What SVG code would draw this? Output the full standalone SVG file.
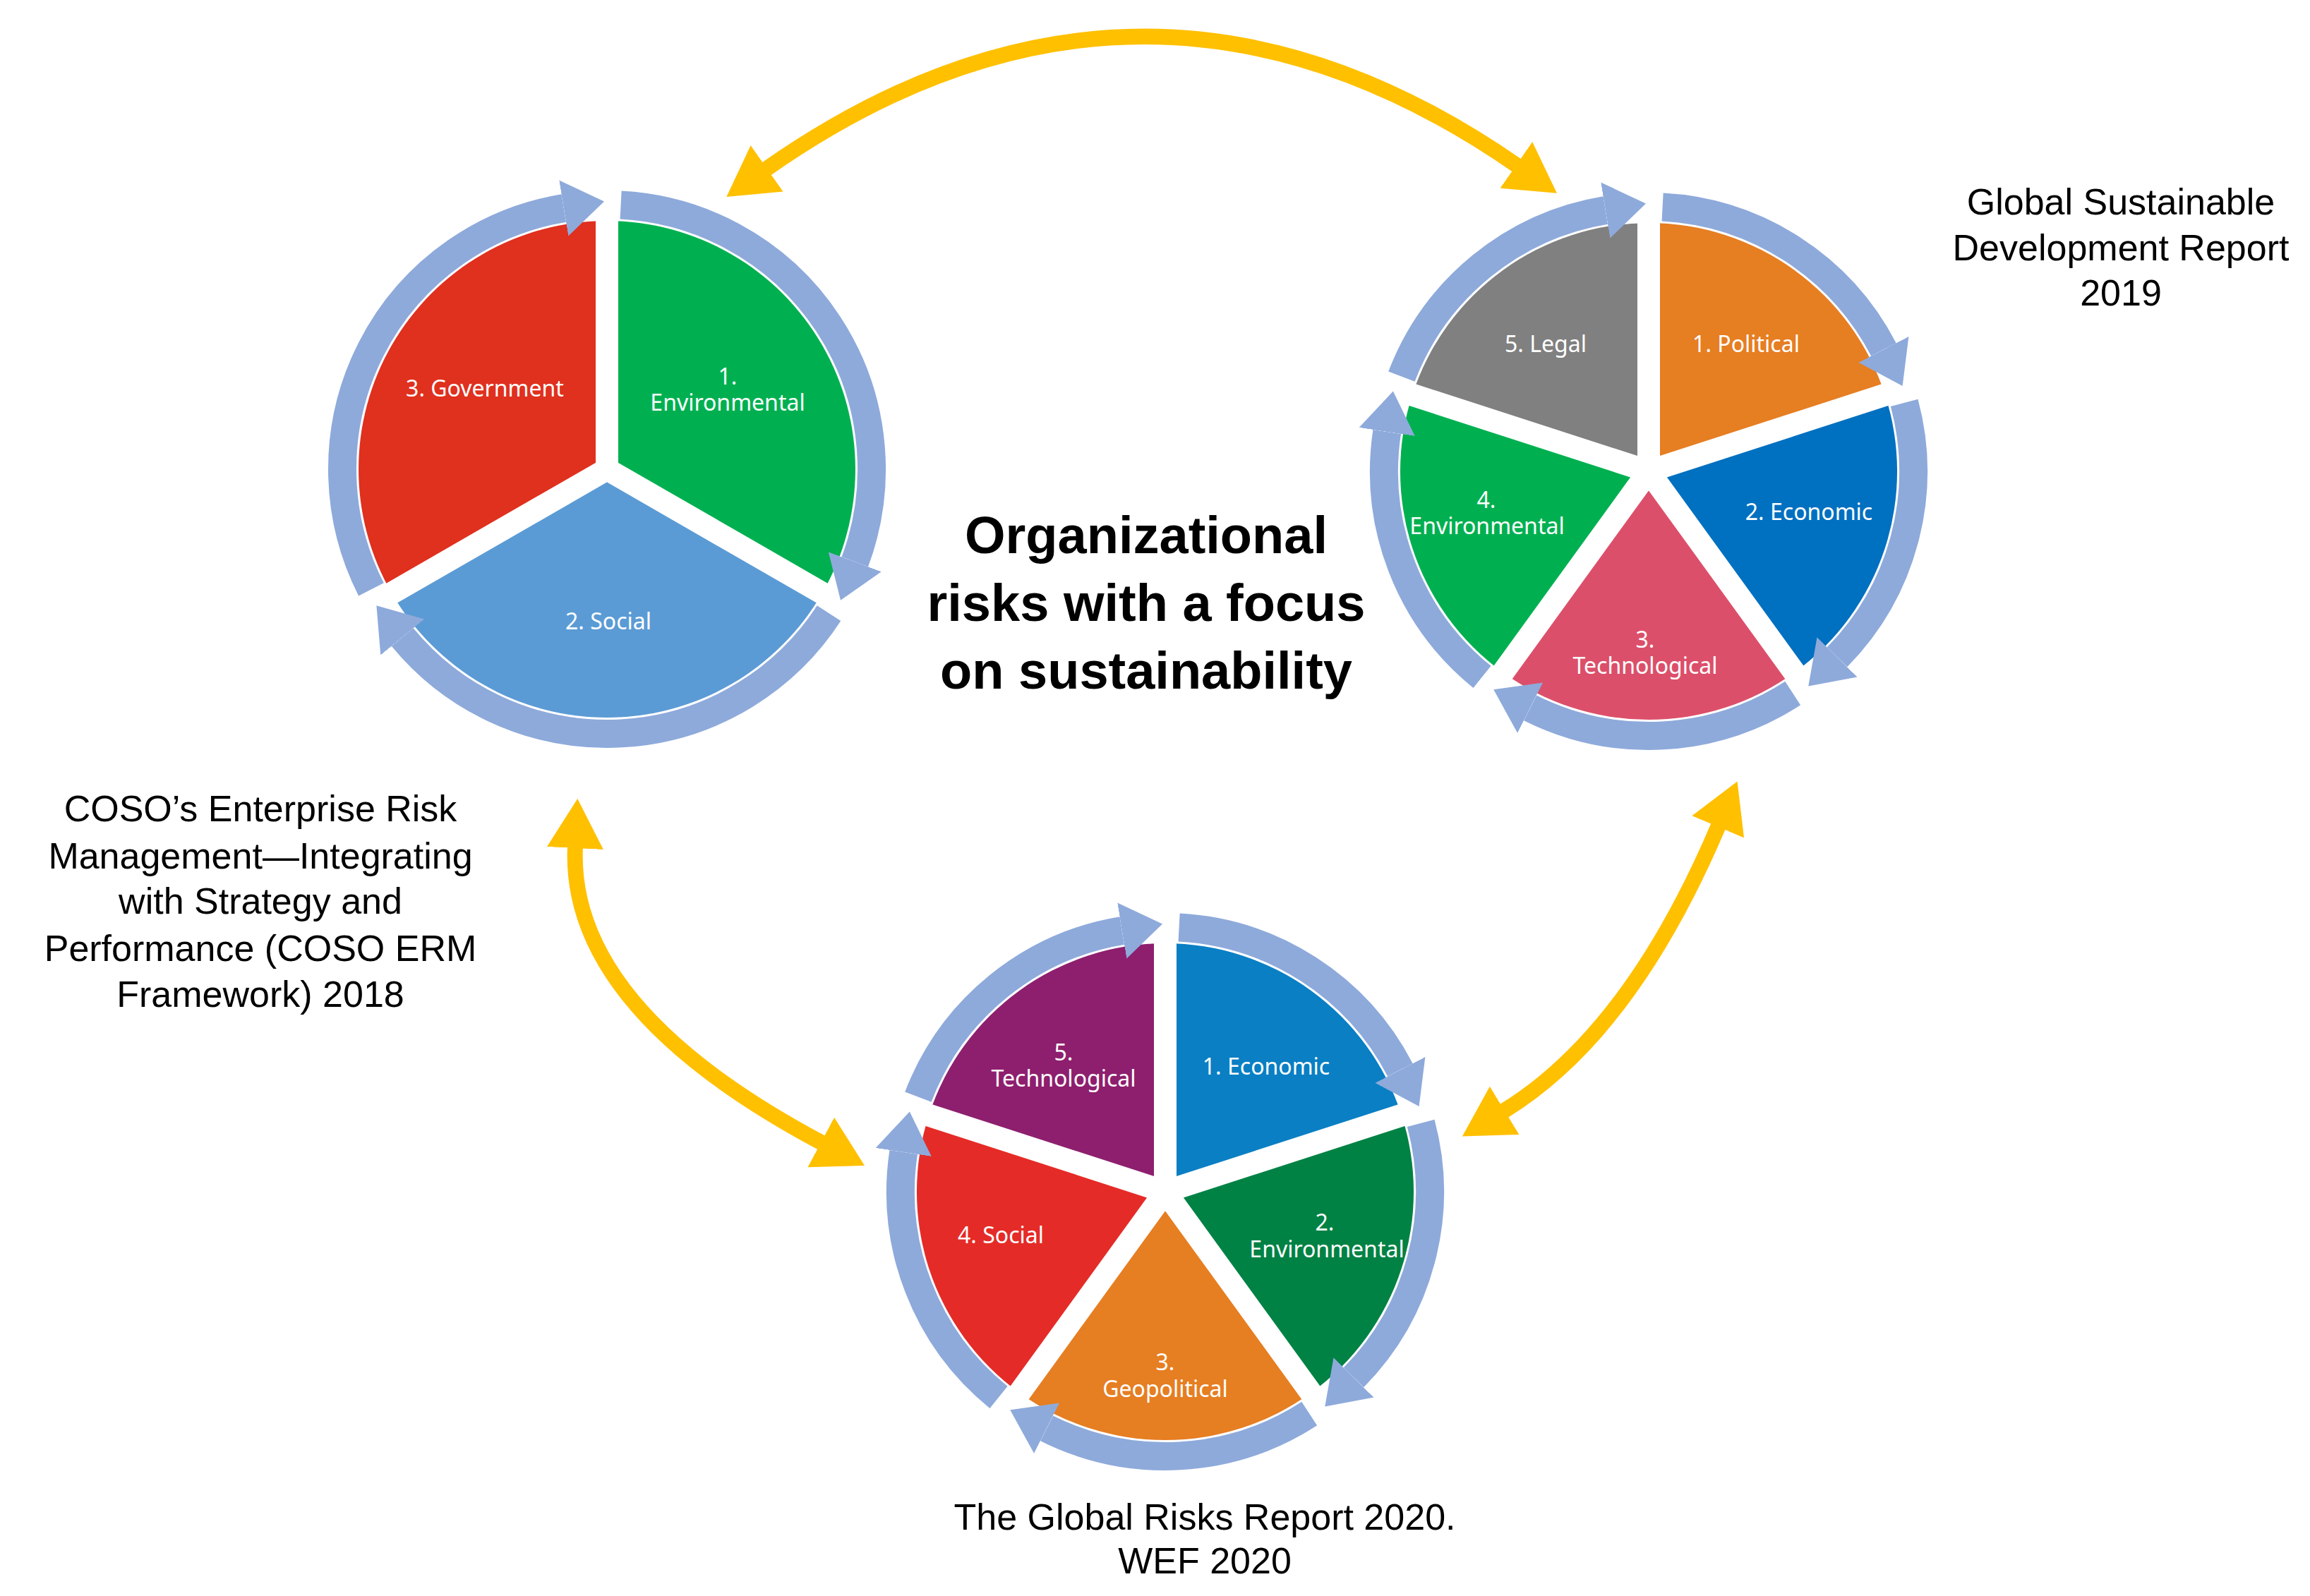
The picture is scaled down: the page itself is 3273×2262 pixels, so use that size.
<svg xmlns="http://www.w3.org/2000/svg" width="3273" height="2262" viewBox="0 0 3273 2262">
<style>
.ring{fill:none;stroke:#8eaadb;stroke-width:40;marker-end:url(#rh)}
.gap{stroke:#fff;stroke-width:32}
.lbl{font-family:"Noto Sans","Open Sans",sans-serif;font-size:32px;fill:#fff;text-anchor:middle}
.src{font-family:"Liberation Sans",Arial,sans-serif;font-size:52px;fill:#000;text-anchor:middle}
.ttl{font-family:"Liberation Sans",Arial,sans-serif;font-size:74px;font-weight:bold;fill:#000;text-anchor:middle}
.yel{fill:none;stroke:#ffc000;stroke-width:22;marker-start:url(#yh);marker-end:url(#yh)}
</style>
<defs>
<marker id="rh" markerUnits="userSpaceOnUse" viewBox="0 0 60 100" markerWidth="60" markerHeight="100" refX="0" refY="50" orient="auto"><path d="M0,10 L58,50 L0,90 Z" fill="#8eaadb"/></marker>
<marker id="yh" markerUnits="userSpaceOnUse" viewBox="0 0 70 80" markerWidth="70" markerHeight="80" refX="2" refY="40" orient="auto-start-reverse"><path d="M0,0 L70,40 L0,80 Z" fill="#ffc000"/></marker>
</defs>
<rect width="3273" height="2262" fill="#fff"/>
<g id="connectors">
<path class="yel" d="M1085,240 Q1618,-134 2150,235"/>
<path class="yel" d="M815,1200 Q804,1428 1165,1620"/>
<path class="yel" d="M2435,1170 Q2309.5,1465.5 2130,1575"/>
</g>
<g id="coso">
<path d="M860,665 L860,313 A352,352 0 0 1 1164.8,841 Z" fill="#00b050"/>
<path d="M860,665 L1164.8,841 A352,352 0 0 1 555.2,841 Z" fill="#5b9bd5"/>
<path d="M860,665 L555.2,841 A352,352 0 0 1 860,313 Z" fill="#e0301e"/>
<line class="gap" x1="860" y1="665" x2="860" y2="300"/>
<line class="gap" x1="860" y1="665" x2="1176" y2="847"/>
<line class="gap" x1="860" y1="665" x2="544" y2="847"/>
<path class="ring" d="M879.6,290.5 A375,375 0 0 1 1211.3,796.3"/>
<path class="ring" d="M1174.5,869.2 A375,375 0 0 1 570.2,903"/>
<path class="ring" d="M525.9,835.3 A375,375 0 0 1 798.8,295"/>
<text class="lbl" x="1031" y="545">1.</text>
<text class="lbl" x="1031" y="582">Environmental</text>
<text class="lbl" x="862" y="892">2. Social</text>
<text class="lbl" x="687" y="562">3. Government</text>
</g>
<g id="gsdr">
<path d="M2336,668 L2336,316 A352,352 0 0 1 2670.8,559.2 Z" fill="#e67e22"/>
<path d="M2336,668 L2670.8,559.2 A352,352 0 0 1 2542.9,952.8 Z" fill="#0070c0"/>
<path d="M2336,668 L2542.9,952.8 A352,352 0 0 1 2129.1,952.8 Z" fill="#dc4f6a"/>
<path d="M2336,668 L2129.1,952.8 A352,352 0 0 1 2001.2,559.2 Z" fill="#00b050"/>
<path d="M2336,668 L2001.2,559.2 A352,352 0 0 1 2336,316 Z" fill="#808080"/>
<line class="gap" x1="2336" y1="668" x2="2336" y2="305"/>
<line class="gap" x1="2336" y1="668" x2="2682" y2="556"/>
<line class="gap" x1="2336" y1="668" x2="2549" y2="962"/>
<line class="gap" x1="2336" y1="668" x2="2123" y2="962"/>
<line class="gap" x1="2336" y1="668" x2="1990" y2="556"/>
<path class="ring" d="M2355.6,293.5 A375,375 0 0 1 2668.9,495.4"/>
<path class="ring" d="M2698.2,570.9 A375,375 0 0 1 2603,931.3"/>
<path class="ring" d="M2540.2,982.5 A375,375 0 0 1 2168.1,1003.3"/>
<path class="ring" d="M2100,959.4 A375,375 0 0 1 1965.2,611.9"/>
<path class="ring" d="M1985.9,533.6 A375,375 0 0 1 2274.8,298"/>
<text class="lbl" x="2474" y="499">1. Political</text>
<text class="lbl" x="2563" y="737">2. Economic</text>
<text class="lbl" x="2331" y="918">3.</text>
<text class="lbl" x="2331" y="955">Technological</text>
<text class="lbl" x="2106" y="720">4.</text>
<text class="lbl" x="2107" y="757">Environmental</text>
<text class="lbl" x="2190" y="499">5. Legal</text>
</g>
<g id="wef">
<path d="M1651,1689 L1651,1337 A352,352 0 0 1 1985.8,1580.2 Z" fill="#0a7fc4"/>
<path d="M1651,1689 L1985.8,1580.2 A352,352 0 0 1 1857.9,1973.8 Z" fill="#008244"/>
<path d="M1651,1689 L1857.9,1973.8 A352,352 0 0 1 1444.1,1973.8 Z" fill="#e67e22"/>
<path d="M1651,1689 L1444.1,1973.8 A352,352 0 0 1 1316.2,1580.2 Z" fill="#e52b27"/>
<path d="M1651,1689 L1316.2,1580.2 A352,352 0 0 1 1651,1337 Z" fill="#8e1f6e"/>
<line class="gap" x1="1651" y1="1689" x2="1651" y2="1326"/>
<line class="gap" x1="1651" y1="1689" x2="1997" y2="1577"/>
<line class="gap" x1="1651" y1="1689" x2="1864" y2="1983"/>
<line class="gap" x1="1651" y1="1689" x2="1438" y2="1983"/>
<line class="gap" x1="1651" y1="1689" x2="1305" y2="1577"/>
<path class="ring" d="M1670.6,1314.5 A375,375 0 0 1 1983.9,1516.4"/>
<path class="ring" d="M2013.2,1591.9 A375,375 0 0 1 1918,1952.3"/>
<path class="ring" d="M1855.2,2003.5 A375,375 0 0 1 1483.1,2024.3"/>
<path class="ring" d="M1415,1980.4 A375,375 0 0 1 1280.2,1632.9"/>
<path class="ring" d="M1300.9,1554.6 A375,375 0 0 1 1589.8,1319"/>
<text class="lbl" x="1794" y="1523">1. Economic</text>
<text class="lbl" x="1877" y="1744">2.</text>
<text class="lbl" x="1880" y="1782">Environmental</text>
<text class="lbl" x="1651" y="1942">3.</text>
<text class="lbl" x="1651" y="1980">Geopolitical</text>
<text class="lbl" x="1418" y="1762">4. Social</text>
<text class="lbl" x="1507" y="1503">5.</text>
<text class="lbl" x="1507" y="1540">Technological</text>
</g>
<g id="title">
<text class="ttl" x="1624" y="784">Organizational</text>
<text class="ttl" x="1624" y="880">risks with a focus</text>
<text class="ttl" x="1624" y="976">on sustainability</text>
</g>
<g id="gsdr-label">
<text class="src" x="3005" y="304">Global Sustainable</text>
<text class="src" x="3005" y="369">Development Report</text>
<text class="src" x="3005" y="433">2019</text>
</g>
<g id="coso-label">
<text class="src" x="369" y="1164">COSO’s Enterprise Risk</text>
<text class="src" x="369" y="1231">Management—Integrating</text>
<text class="src" x="369" y="1295">with Strategy and</text>
<text class="src" x="369" y="1362">Performance (COSO ERM</text>
<text class="src" x="369" y="1427">Framework) 2018</text>
</g>
<g id="wef-label">
<text class="src" x="1707" y="2168">The Global Risks Report 2020.</text>
<text class="src" x="1707" y="2230">WEF 2020</text>
</g>
</svg>
